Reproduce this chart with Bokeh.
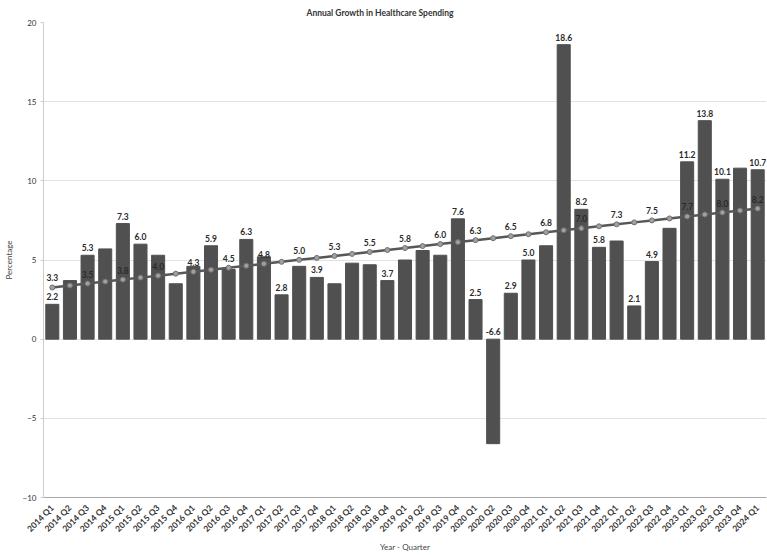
import numpy as np
from math import pi
from bokeh.plotting import figure
from bokeh.models import ColumnDataSource, FactorRange, Range1d, FixedTicker
from bokeh.embed import file_html
from bokeh.resources import INLINE
from bokeh.core.properties import value

quarters = [
    "2014 Q1", "2014 Q2", "2014 Q3", "2014 Q4",
    "2015 Q1", "2015 Q2", "2015 Q3", "2015 Q4",
    "2016 Q1", "2016 Q2", "2016 Q3", "2016 Q4",
    "2017 Q1", "2017 Q2", "2017 Q3", "2017 Q4",
    "2018 Q1", "2018 Q2", "2018 Q3", "2018 Q4",
    "2019 Q1", "2019 Q2", "2019 Q3", "2019 Q4",
    "2020 Q1", "2020 Q2", "2020 Q3", "2020 Q4",
    "2021 Q1", "2021 Q2", "2021 Q3", "2021 Q4",
    "2022 Q1", "2022 Q2", "2022 Q3", "2022 Q4",
    "2023 Q1", "2023 Q2", "2023 Q3", "2023 Q4",
    "2024 Q1",
]

growth = [
    2.2, 3.7, 5.3, 5.7,
    7.3, 6.0, 5.3, 3.5,
    4.6, 5.9, 4.4, 6.3,
    5.2, 2.8, 4.6, 3.9,
    3.5, 4.8, 4.7, 3.7,
    5.0, 5.6, 5.3, 7.6,
    2.5, -6.6, 2.9, 5.0,
    5.9, 18.6, 8.2, 5.8,
    6.2, 2.1, 4.9, 7.0,
    11.2, 13.8, 10.1, 10.8,
    10.7,
]

# quarters whose bar value is printed
bar_labelled = [
    "2014 Q1", "2014 Q3", "2015 Q1", "2015 Q2", "2016 Q2", "2016 Q4",
    "2017 Q2", "2017 Q4", "2018 Q4", "2019 Q4", "2020 Q1", "2020 Q2",
    "2020 Q3", "2020 Q4", "2021 Q2", "2021 Q3", "2021 Q4", "2022 Q2",
    "2022 Q3", "2023 Q1", "2023 Q2", "2023 Q3", "2024 Q1",
]

# quarters whose trend value is printed
trend_labelled = quarters[::2]

y_ticks = [-10, -5, 0, 5, 10, 15, 20]

# linear trend line fitted to the bars
xi = np.arange(1, len(growth) + 1)
slope, intercept = np.polyfit(xi, growth, 1)
trend = intercept + slope * xi

src = ColumnDataSource(dict(q=quarters, v=growth, t=trend))

bl = [i for i, q in enumerate(quarters) if q in bar_labelled]
bar_lab = ColumnDataSource(dict(
    q=[quarters[i] for i in bl],
    y=[max(growth[i], 0) for i in bl],
    txt=["%.1f" % growth[i] for i in bl],
))
tl = [i for i, q in enumerate(quarters) if q in trend_labelled]
trend_lab = ColumnDataSource(dict(
    q=[quarters[i] for i in tl],
    y=[trend[i] for i in tl],
    txt=["%.1f" % trend[i] for i in tl],
))

FONT = "Lato"

p = figure(
    width=767, height=555,
    x_range=FactorRange(*quarters),
    y_range=Range1d(-10, 20),
    output_backend="svg", toolbar_location=None,
    min_border_left=43, min_border_right=1,
    min_border_top=22, min_border_bottom=57,
)

p.title.text = "Annual Growth in Healthcare Spending"
p.title.align = "left"
p.title.offset = 263
p.title.text_font = FONT
p.title.text_font_size = "8.5px"
p.title.text_font_style = "bold"
p.title.text_color = "#333333"

p.vbar(x="q", top="v", width=0.74, source=src, fill_color="#505050", line_color="#505050")
p.line(x="q", y="t", source=src, line_color="#575757", line_width=2.5)
p.scatter(x="q", y="t", source=src, size=5, fill_color="#a0a0a0", line_color="#707070", line_width=1)

p.text(x="q", y="y", text="txt", source=bar_lab, text_font=value(FONT),
       text_font_style="bold", text_font_size="8.5px", text_color="#2a2a2a",
       text_align="center", text_baseline="bottom", y_offset=-4)
p.text(x="q", y="y", text="txt", source=trend_lab, text_font=value(FONT),
       text_font_style="bold", text_font_size="8.5px", text_color="#2a2a2a",
       text_align="center", text_baseline="bottom", y_offset=-6)

p.outline_line_color = None
p.xgrid.grid_line_color = None
p.ygrid.grid_line_color = "#e2e2e2"
p.ygrid.grid_line_width = 1

p.yaxis.ticker = FixedTicker(ticks=y_ticks)
p.yaxis.axis_label = "Percentage"
p.yaxis.axis_label_text_font = FONT
p.yaxis.axis_label_text_font_size = "8px"
p.yaxis.axis_label_text_font_style = "normal"
p.yaxis.axis_label_text_color = "#444444"
p.yaxis.axis_label_standoff = 6
p.yaxis.major_label_standoff = 4
p.yaxis.major_label_text_font = FONT
p.yaxis.major_label_text_font_size = "8px"
p.yaxis.major_label_text_color = "#333333"
p.yaxis.axis_line_color = "#cccccc"
p.yaxis.major_tick_line_color = "#cccccc"
p.yaxis.major_tick_out = 3
p.yaxis.major_tick_in = 0
p.yaxis.minor_tick_line_color = None

p.xaxis.axis_label = "Year - Quarter"
p.xaxis.axis_label_text_font = FONT
p.xaxis.axis_label_text_font_size = "8px"
p.xaxis.axis_label_text_font_style = "normal"
p.xaxis.axis_label_text_color = "#444444"
p.xaxis.axis_label_standoff = 2
p.xaxis.major_label_standoff = 3
p.xaxis.major_label_orientation = pi / 4
p.xaxis.major_label_text_font = FONT
p.xaxis.major_label_text_font_size = "8.5px"
p.xaxis.major_label_text_font_style = "bold"
p.xaxis.major_label_text_color = "#333333"
p.xaxis.axis_line_color = "#aaaaaa"
p.xaxis.major_tick_line_color = None
p.xaxis.minor_tick_line_color = None

open("out.html", "w").write(file_html(p, INLINE))
